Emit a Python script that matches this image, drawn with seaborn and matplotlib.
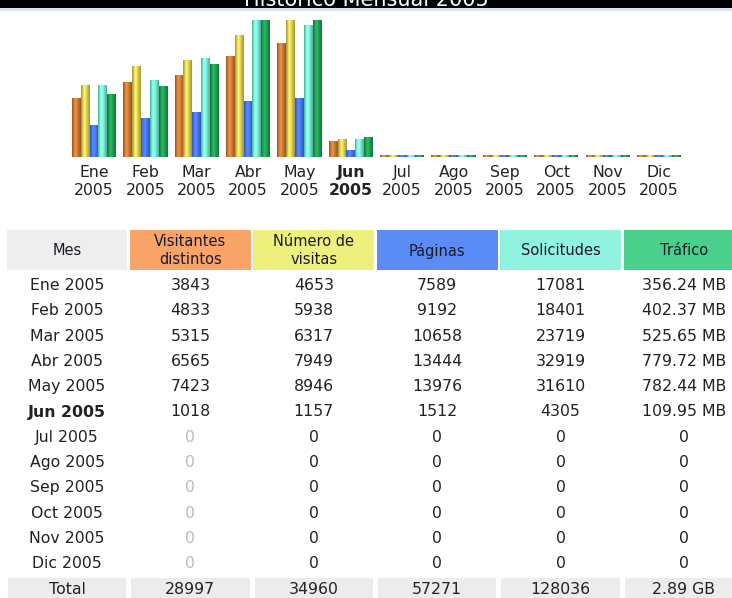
import numpy as np
import pandas as pd
import matplotlib
matplotlib.use("Agg")
import matplotlib.pyplot as plt
from matplotlib.patches import Rectangle
import seaborn as sns

sns.set_theme(style="white")
plt.rcParams['font.family'] = ['DejaVu Sans']

# ---------------- data ----------------
meses = ["Ene", "Feb", "Mar", "Abr", "May", "Jun", "Jul", "Ago", "Sep", "Oct", "Nov", "Dic"]
anio = "2005"
visitantes = [3843, 4833, 5315, 6565, 7423, 1018, 0, 0, 0, 0, 0, 0]
visitas = [4653, 5938, 6317, 7949, 8946, 1157, 0, 0, 0, 0, 0, 0]
paginas = [7589, 9192, 10658, 13444, 13976, 1512, 0, 0, 0, 0, 0, 0]
solicitudes = [17081, 18401, 23719, 32919, 31610, 4305, 0, 0, 0, 0, 0, 0]
trafico_mb = [356.24, 402.37, 525.65, 779.72, 782.44, 109.95, 0, 0, 0, 0, 0, 0]
totales = ["Total", "28997", "34960", "57271", "128036", "2.89 GB"]
encabezados = ["Mes", "Visitantes\ndistintos", "Número de\nvisitas", "Páginas", "Solicitudes", "Tráfico"]
mes_actual = "Jun"

series = ["Visitantes", "Visitas", "Páginas", "Solicitudes", "Tráfico"]
bar_colors = ["#CF7A34", "#DCD055", "#4676F2", "#78ECD2", "#1FA052"]
head_colors = ["#EEEEEE", "#F8A468", "#EEF07E", "#5B8CF6", "#8FF3DF", "#4BD08C"]

# ---------------- figure ----------------
W, H = 732, 598
fig = plt.figure(figsize=(W / 100, H / 100), dpi=100)
fig.patch.set_facecolor("white")

# title band
fig.patches.append(Rectangle((0, 1 - 8 / H), 1, 8 / H, transform=fig.transFigure,
                             facecolor="black", edgecolor="none", zorder=0))
fig.patches.append(Rectangle((0, 1 - 11 / H), 1, 3 / H, transform=fig.transFigure,
                             facecolor="#DCE3EF", edgecolor="none", zorder=0))
fig.text(0.5, 1 - 6.5 / H, "Histórico Mensual 2005", ha="center", va="baseline",
         color="white", fontsize=15, zorder=5)

# ---------------- bar chart ----------------
# AWStats scaling: visitors & visits share max visits, pages & hits share max hits
maxv = max(visitas)
maxh = max(solicitudes)
maxk = max(trafico_mb)
norm = {
    "Visitantes": np.array(visitantes) / maxv,
    "Visitas": np.array(visitas) / maxv,
    "Páginas": np.array(paginas) / maxh,
    "Solicitudes": np.array(solicitudes) / maxh,
    "Tráfico": np.array(trafico_mb) / maxk,
}
rows = []
for s in series:
    for m, v in zip(meses, norm[s]):
        rows.append({"mes": m, "serie": s, "valor": max(v, 0.013)})
df = pd.DataFrame(rows)

pitch = 51.36
left_px = 94 - pitch / 2
ax = fig.add_axes([left_px / W, (H - 157) / H, 12 * pitch / W, 137 / H])
sns.barplot(data=df, x="mes", y="valor", hue="serie", order=meses, hue_order=series,
            palette=bar_colors, width=0.86, saturation=1, errorbar=None,
            legend=False, ax=ax, linewidth=0)

profile = np.array([0.78, 0.92, 1.08, 1.16, 1.12, 1.02, 0.92, 0.84, 0.76])
for p in list(ax.patches):
    w = p.get_width()
    h = p.get_height()
    if w <= 0 or h <= 0:
        continue
    x0, y0 = p.get_x(), p.get_y()
    base = np.array(p.get_facecolor()[:3])
    grad = np.clip(base[None, None, :] * profile[None, :, None], 0, 1)
    ax.imshow(grad, extent=(x0, x0 + w, y0, y0 + h), aspect="auto",
              interpolation="bilinear", zorder=3)

ax.set_xlim(-0.5, 11.5)
ax.set_ylim(0, 1)
ax.set_facecolor("white")
for sp in ax.spines.values():
    sp.set_visible(False)
ax.set_yticks([])
ax.set_xlabel("")
ax.set_ylabel("")
ax.set_xticks(range(len(meses)))
ax.set_xticklabels([f"{m}\n{anio}" for m in meses], fontsize=11.3, color="#222222",
                   linespacing=1.25)
ax.tick_params(axis="x", length=0, pad=6)
for lab, m in zip(ax.get_xticklabels(), meses):
    if m == mes_actual:
        lab.set_fontweight("bold")

# ---------------- table ----------------
col_pitch = 123.4
c0 = 67
row0 = 285.5
rpitch = 25.3
top_px = 222
tax = fig.add_axes([0, 0, 1, (H - top_px) / H])
tax.set_xlim(-c0 / col_pitch, (W - c0) / col_pitch)
tax.set_ylim((H - row0) / rpitch, (top_px - row0) / rpitch)
tax.axis("off")

hy0 = (230 - row0) / rpitch
hy1 = (270 - row0) / rpitch
for i, (txt, col) in enumerate(zip(encabezados, head_colors)):
    tax.add_patch(Rectangle((i - 0.49, hy0), 0.98, hy1 - hy0, facecolor=col,
                            edgecolor="none"))
    tax.text(i, (hy0 + hy1) / 2 + 0.02, txt, ha="center", va="center", fontsize=10.5,
             color="#1A1A2A", linespacing=1.25)

fs = 11.3
valores = [visitantes, visitas, paginas, solicitudes]
for r, m in enumerate(meses):
    bold = "bold" if m == mes_actual else "normal"
    tax.text(0, r, f"{m} {anio}", ha="center", va="center", fontsize=fs,
             color="#222222", fontweight=bold)
    for c, serie in enumerate(valores, start=1):
        v = serie[r]
        color = "#BBBBBB" if (c == 1 and v == 0) else "#222222"
        tax.text(c, r, f"{v}", ha="center", va="center", fontsize=fs, color=color)
    k = trafico_mb[r]
    tax.text(5, r, f"{k:.2f} MB" if k > 0 else "0", ha="center", va="center",
             fontsize=fs, color="#222222")

ty0 = (578 - row0) / rpitch
tr = len(meses)
for i, txt in enumerate(totales):
    tax.add_patch(Rectangle((i - 0.48, ty0), 0.96, 2, facecolor="#ECECEC",
                            edgecolor="none"))
    tax.text(i, tr, txt, ha="center", va="center", fontsize=fs, color="#222222")

fig.savefig("out.png", dpi=100, facecolor="white")
